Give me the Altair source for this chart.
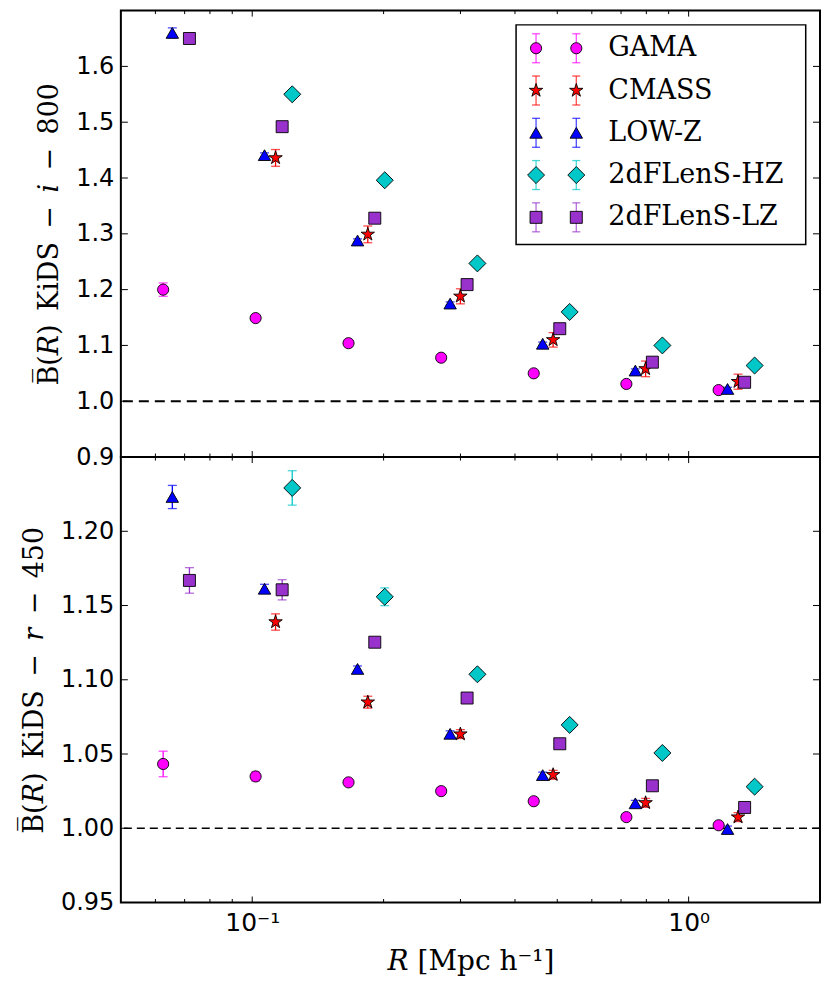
import altair as alt
import pandas as pd

STAR = ("M0,-1L0.2245,-0.309L0.9511,-0.309L0.3633,0.118L0.5878,0.809L0,0.382"
        "L-0.5878,0.809L-0.3633,0.118L-0.9511,-0.309L-0.2245,-0.309Z")

surveys = ["GAMA", "CMASS", "LOW-Z", "2dFLenS-HZ", "2dFLenS-LZ"]
colors = ["#ff00ff", "#ff0000", "#0000ff", "#00c8c8", "#9932cc"]
shapes = ["circle", STAR, "triangle-up", "diamond", "square"]
sizes = [125, 200, 155, 290, 144]

# radial positions (Mpc/h) for each survey
R_gama = [0.0625, 0.1018, 0.1662, 0.2710, 0.4416, 0.7200, 1.1715]
R_cmass = [0.1131, 0.1840, 0.2999, 0.4892, 0.7968, 1.2977]
R_lowz = [0.0656, 0.1067, 0.1743, 0.2841, 0.4630, 0.7549, 1.2280]
R_hz = [0.1235, 0.2012, 0.3281, 0.5338, 0.8706, 1.4164]
R_lz = [0.0718, 0.1171, 0.1909, 0.3107, 0.5067, 0.8259, 1.3437]

# KiDS - i - 800 (top panel)
i_gama = [1.200, 1.149, 1.104, 1.078, 1.050, 1.031, 1.020]
i_gama_err = [0.012, 0.004, 0.003, 0.003, 0.003, 0.003, 0.003]
i_cmass = [1.436, 1.299, 1.188, 1.110, 1.058, 1.035]
i_cmass_err = [0.015, 0.015, 0.0135, 0.013, 0.014, 0.0135]
i_lowz = [1.660, 1.441, 1.288, 1.175, 1.103, 1.055, 1.022]
i_lowz_err = [0.009, 0.004, 0.003, 0.003, 0.003, 0.003, 0.003]
i_hz = [1.550, 1.396, 1.247, 1.160, 1.100, 1.064]
i_hz_err = [0.004, 0.004, 0.003, 0.003, 0.003, 0.003]
i_lz = [1.650, 1.492, 1.328, 1.209, 1.130, 1.070, 1.034]
i_lz_err = [0.004, 0.004, 0.003, 0.003, 0.003, 0.003, 0.003]

# KiDS - r - 450 (bottom panel)
r_gama = [1.0433, 1.0349, 1.0309, 1.0250, 1.0182, 1.0075, 1.0020]
r_gama_err = [0.0086, 0.003, 0.002, 0.002, 0.002, 0.002, 0.002]
r_cmass = [1.1389, 1.0849, 1.0634, 1.0360, 1.0171, 1.0075]
r_cmass_err = [0.0055, 0.004, 0.003, 0.003, 0.003, 0.003]
r_lowz = [1.2231, 1.1613, 1.1073, 1.0636, 1.0358, 1.0168, 0.9995]
r_lowz_err = [0.0078, 0.003, 0.002, 0.002, 0.002, 0.002, 0.002]
r_hz = [1.2292, 1.1559, 1.1037, 1.0696, 1.0507, 1.0280]
r_hz_err = [0.0116, 0.006, 0.003, 0.003, 0.003, 0.003]
r_lz = [1.1669, 1.1606, 1.1253, 1.0877, 1.0569, 1.0286, 1.0140]
r_lz_err = [0.0086, 0.0068, 0.003, 0.003, 0.003, 0.003, 0.003]

x_major = [0.1, 1.0]
x_minor = [0.06, 0.07, 0.08, 0.09, 0.2, 0.3, 0.4, 0.5, 0.6, 0.7, 0.8, 0.9]
top_yticks = [0.9, 1.0, 1.1, 1.2, 1.3, 1.4, 1.5, 1.6]
bot_yticks = [0.95, 1.00, 1.05, 1.10, 1.15, 1.20]
ref_line = [1.0]

R_all = [R_gama, R_cmass, R_lowz, R_hz, R_lz]


def build(vals, errs):
    rows = []
    for s, R, v, e in zip(surveys, R_all, vals, errs):
        for r, y, ee in zip(R, v, e):
            rows.append(dict(survey=s, R=r, val=y, lo=y - ee, hi=y + ee))
    return pd.DataFrame(rows)


top_df = build([i_gama, i_cmass, i_lowz, i_hz, i_lz],
               [i_gama_err, i_cmass_err, i_lowz_err, i_hz_err, i_lz_err])
bot_df = build([r_gama, r_cmass, r_lowz, r_hz, r_lz],
               [r_gama_err, r_cmass_err, r_lowz_err, r_hz_err, r_lz_err])

W = 700
H1 = 447
H2 = 446

cscale = alt.Scale(domain=surveys, range=colors)
sscale = alt.Scale(domain=surveys, range=shapes)
zscale = alt.Scale(type="ordinal", domain=surveys, range=sizes)
xs = alt.Scale(type="log", domain=[0.05, 2.0], nice=False)

SERIF = "DejaVu Serif"
EN = "\u2002"
MINUS = "\u2002\u2212\u2002"


def panel(df, ydom, yticks, fmt, ytitle, H, dash, dashw, show_x):
    ys = alt.Scale(domain=ydom, nice=False, zero=False)
    if show_x:
        xaxis = alt.Axis(values=x_major, labelExpr="datum.value < 0.5 ? '10\u207b\u00b9' : '10\u2070'",
                         tickSize=0, domain=False, grid=False,
                         title="\U0001D445 [Mpc h\u207b\u00b9]", labelPadding=8, titlePadding=12,
                         labelFontSize=25, titleFontSize=28)
    else:
        xaxis = None
    yaxis = alt.Axis(values=yticks, format=fmt, tickSize=0, domain=False, grid=False,
                     title=ytitle, labelPadding=7, titlePadding=12)

    base = alt.Chart(df)
    X = alt.X("R:Q", scale=xs, axis=xaxis)
    col = alt.Color("survey:N", scale=cscale, legend=None)

    err = base.mark_rule(strokeWidth=1.3).encode(
        x=X, y=alt.Y("lo:Q", scale=ys, axis=yaxis), y2="hi:Q", color=col)
    cap_lo = base.mark_tick(orient="horizontal", size=9, thickness=1.3).encode(
        x=X, y=alt.Y("lo:Q", scale=ys, axis=yaxis), color=col)
    cap_hi = base.mark_tick(orient="horizontal", size=9, thickness=1.3).encode(
        x=X, y=alt.Y("hi:Q", scale=ys, axis=yaxis), color=col)
    pts = base.mark_point(filled=True, stroke="black", strokeWidth=0.9, opacity=1).encode(
        x=X, y=alt.Y("val:Q", scale=ys, axis=yaxis),
        fill=alt.Fill("survey:N", scale=cscale, legend=None),
        shape=alt.Shape("survey:N", scale=sscale, legend=None),
        size=alt.Size("survey:N", scale=zscale, legend=None))

    ref = alt.Chart(pd.DataFrame({"one": ref_line})).mark_rule(
        strokeDash=dash, strokeWidth=dashw, color="black").encode(
        y=alt.Y("one:Q", scale=ys, axis=yaxis))

    xmaj = alt.Chart(pd.DataFrame({"v": x_major}))
    xmin = alt.Chart(pd.DataFrame({"v": x_minor}))
    XT = alt.X("v:Q", scale=xs, axis=xaxis)
    ticks = [
        xmaj.mark_rule(color="black", strokeWidth=1).encode(x=XT, y=alt.value(0), y2=alt.value(6)),
        xmaj.mark_rule(color="black", strokeWidth=1).encode(x=XT, y=alt.value(H - 6), y2=alt.value(H)),
        xmin.mark_rule(color="black", strokeWidth=1).encode(x=XT, y=alt.value(0), y2=alt.value(3.5)),
        xmin.mark_rule(color="black", strokeWidth=1).encode(x=XT, y=alt.value(H - 3.5), y2=alt.value(H)),
    ]
    ytk = alt.Chart(pd.DataFrame({"v": yticks}))
    YT = alt.Y("v:Q", scale=ys, axis=yaxis)
    ticks += [
        ytk.mark_rule(color="black", strokeWidth=1).encode(y=YT, x=alt.value(0), x2=alt.value(7)),
        ytk.mark_rule(color="black", strokeWidth=1).encode(y=YT, x=alt.value(W - 7), x2=alt.value(W)),
    ]
    return alt.layer(ref, *ticks, err, cap_lo, cap_hi, pts)


top_inner = panel(top_df, [0.9, 1.7], top_yticks, ".1f",
                  "B\u0305(\U0001D445)" + EN + "KiDS" + MINUS + "\U0001D456" + MINUS + "800",
                  H1, [10, 6], 1.8, False)
bot_inner = panel(bot_df, [0.95, 1.25], bot_yticks, ".2f",
                  "B\u0305(\U0001D445)" + EN + "KiDS" + MINUS + "\U0001D45F" + MINUS + "450",
                  H2, [8, 5], 1.4, True)

# legend (drawn inside top panel)
leg_df = pd.DataFrame({"survey": surveys})
leg = alt.Chart(leg_df)
LY = alt.Y("survey:N", sort=surveys, axis=None,
           scale=alt.Scale(type="point", range=[37.7, 207], padding=0))
lfill = alt.Fill("survey:N", scale=cscale, legend=None)
lcol = alt.Color("survey:N", scale=cscale, legend=None)
lshape = alt.Shape("survey:N", scale=sscale, legend=None)
lsize = alt.Size("survey:N", scale=zscale, legend=None)

frame = alt.Chart(pd.DataFrame({"k": [0]})).mark_rect(
    fill="white", stroke="black", strokeWidth=1.5).encode(
    x=alt.value(395.7), x2=alt.value(685.7), y=alt.value(14.3), y2=alt.value(234.3))

leg_layers = [frame]
for xp in [415.7, 456.0]:
    leg_layers.append(leg.mark_tick(orient="vertical", size=29, thickness=1.3).encode(
        x=alt.value(xp), y=LY, color=lcol))
    leg_layers.append(leg.mark_tick(orient="horizontal", size=8, thickness=1.3, yOffset=-14.5).encode(
        x=alt.value(xp), y=LY, color=lcol))
    leg_layers.append(leg.mark_tick(orient="horizontal", size=8, thickness=1.3, yOffset=14.5).encode(
        x=alt.value(xp), y=LY, color=lcol))
    leg_layers.append(leg.mark_point(filled=True, stroke="black", strokeWidth=0.9, opacity=1).encode(
        x=alt.value(xp), y=LY, fill=lfill, shape=lshape, size=lsize))
leg_layers.append(leg.mark_text(align="left", baseline="middle", font=SERIF, fontSize=27,
                                color="black").encode(x=alt.value(488), y=LY, text="survey:N"))

legend_layer = alt.layer(*leg_layers)

top = alt.layer(top_inner, legend_layer).resolve_scale(y="independent").properties(width=W, height=H1)
bot = bot_inner.properties(width=W, height=H2)

chart = alt.vconcat(top, bot, spacing=0, bounds="flush").properties(
    padding={"left": 11, "top": 0, "right": 0, "bottom": 0},
).configure(background="white").configure_view(
    stroke="black", strokeWidth=2
).configure_axis(
    labelFont="DejaVu Sans", labelFontSize=24, labelColor="black",
    titleFont=SERIF, titleFontSize=27, titleFontWeight="normal", titleColor="black",
)

chart.save("out.html", embed_options={"renderer": "svg", "actions": False})
